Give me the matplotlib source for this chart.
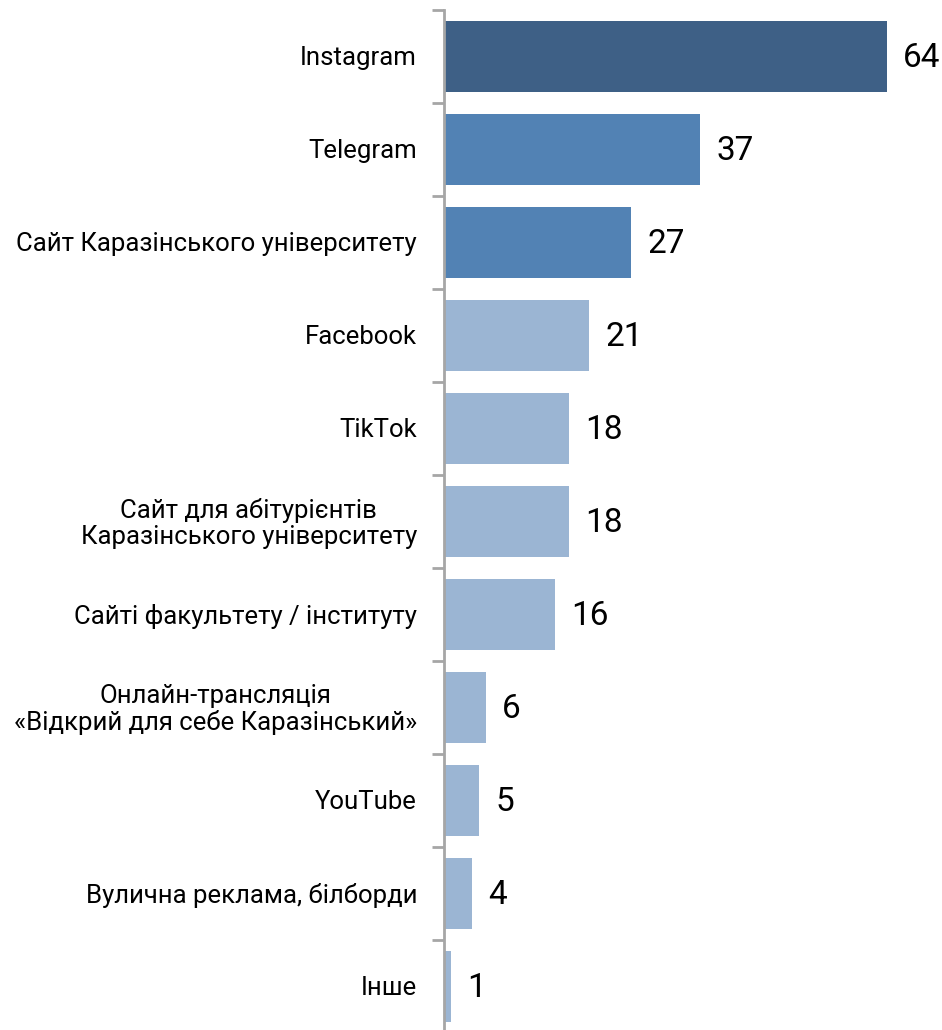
import matplotlib
matplotlib.use('Agg')
import matplotlib.pyplot as plt

plt.rcParams['font.family'] = ['Roboto', 'DejaVu Sans']

categories = ['Instagram', 'Telegram', 'Сайт Каразінського університету', 'Facebook', 'TikTok',
              'Сайт для абітурієнтів\nКаразінського університету', 'Сайті факультету / інституту',
              'Онлайн-трансляція\n«Відкрий для себе Каразінський»', 'YouTube',
              'Вулична реклама, білборди', 'Інше']
values = [64, 37, 27, 21, 18, 18, 16, 6, 5, 4, 1]
colors = ['#3E6086', '#5282B4', '#5282B4'] + ['#9BB5D3'] * 8

fig = plt.figure(figsize=(9.42, 10.30), dpi=100)
ax = fig.add_axes([444 / 942, -3 / 1030, 1 - 444 / 942, 1023 / 1030])

n = len(categories)
pos = list(range(n))
ax.barh(pos, values, height=0.77, color=colors, zorder=2)
ax.set_ylim(n - 0.5, -0.5)
ax.set_xlim(0, 72)

for y, v in zip(pos, values):
    ax.text(v + 2.4, y + 0.02, str(v), va='center', ha='left', fontsize=24, color='black')

for y, c in zip(pos, categories):
    ax.text(-3.9, y + 0.02, c, va='center', ha='right', multialignment='center',
            fontsize=18.5, color='black', linespacing=1.1)

ax.set_yticks([i - 0.5 for i in range(n + 1)])
ax.set_yticklabels([])
ax.set_xticks([])
ax.tick_params(axis='y', length=9, width=2, color='#A6A6A6', direction='out')
for s in ['top', 'right', 'bottom']:
    ax.spines[s].set_visible(False)
ax.spines['left'].set_color('#A6A6A6')
ax.spines['left'].set_linewidth(2)

fig.savefig('out.png', dpi=100)
